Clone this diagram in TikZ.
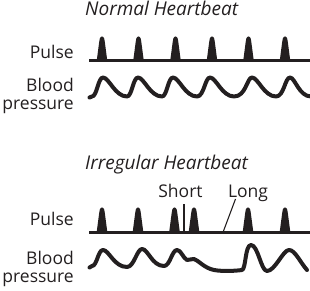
\documentclass[tikz,border=0pt]{standalone}
\usepackage{fontspec}
\setmainfont{Open Sans}
\definecolor{ink}{HTML}{231F20}

\begin{document}
\begin{tikzpicture}[x=1pt,y=-1pt,
  rowtext/.style={anchor=base east,inner sep=0,font=\fontsize{17.5}{20}\selectfont,text=ink},
  heading/.style={anchor=base west,inner sep=0,font=\fontsize{19}{22}\selectfont\itshape,text=ink},
  marktext/.style={anchor=base,inner sep=0,font=\fontsize{17.5}{20}\selectfont,text=ink},
  pulseline/.style={ink,line width=3pt,line join=round},
  bpline/.style={ink,line width=4pt,line cap=round,line join=round},
  marker/.style={ink,line width=1.1pt}]
\useasboundingbox (0,0) rectangle (310,291);
% normal heartbeat
\node[heading] (normalT) at (85,15.5) {Normal Heartbeat};
\node[rowtext] (pulseA) at (74,58.5) {Pulse};
\node[rowtext] (bloodA) at (74,91.5) {Blood};
\node[rowtext] (pressA) at (74,110) {pressure};
\draw[pulseline] (89,61) -- (310,61);
\foreach \p in {102,138.5,175.5,212,248.5,285}
  \filldraw[pulseline] (\p-3.8,61) -- (\p-1.3,42) .. controls (\p-0.7,36.5) and (\p+0.7,36.5) .. (\p+1.3,42) -- (\p+3.8,61);
\draw[bpline] (89.5,97.5) -- (92,96.5)
  \foreach \p in {103,138,173,210,252} { .. controls (\p-6,96.5) and (\p-5,77.5) .. (\p,77.5) .. controls (\p+6,77.5) and (\p+12,96.5) .. (\p+24,96.5) }
  .. controls (284,96.5) and (285,77.5) .. (290,77.5) .. controls (295,77.5) and (299,96.5) .. (311,96.5);
% irregular heartbeat
\node[heading] (irregT) at (85,169.5) {Irregular Heartbeat};
\node[marktext] (shortT) at (180.5,197) {Short};
\node[marktext] (longT) at (248,197) {Long};
\node[rowtext] (pulseB) at (74,225.5) {Pulse};
\node[rowtext] (bloodB) at (74,264) {Blood};
\node[rowtext] (pressB) at (74,282) {pressure};
\draw[pulseline] (89,232) -- (310,232);
\foreach \p in {102,138,174.5,194,248,285}
  \filldraw[pulseline] (\p-3.8,232) -- (\p-1.3,213) .. controls (\p-0.7,207.5) and (\p+0.7,207.5) .. (\p+1.3,213) -- (\p+3.8,232);
\coordinate (shortTop) at (184,204);
\coordinate (shortFoot) at (184,231);
\coordinate (longTop) at (235.5,199);
\coordinate (longFoot) at (223.5,231);
\draw[marker] (shortTop) -- (shortFoot);
\draw[marker] (longTop) -- (longFoot);
\draw[bpline] (89.5,267.5) -- (92,266)
  .. controls (97,266) and (98,250) .. (103,250) .. controls (109,250) and (114,267) .. (127,267)
  .. controls (134,267) and (137,249) .. (142,249) .. controls (148,249) and (152,266) .. (164,266)
  .. controls (170,266) and (172,250) .. (177,250) .. controls (181,250) and (183,258) .. (187,260)
  .. controls (189,261) and (191,258) .. (194,259) .. controls (198,260) and (204,268) .. (214,270)
  .. controls (222,271.5) and (235,271) .. (242,270) .. controls (246,269) and (245,245) .. (251,245)
  .. controls (258,245) and (261,271) .. (267,271) .. controls (275,271) and (283,250) .. (289,250)
  .. controls (295,250) and (300,262) .. (307,270);
\end{tikzpicture}
\end{document}
